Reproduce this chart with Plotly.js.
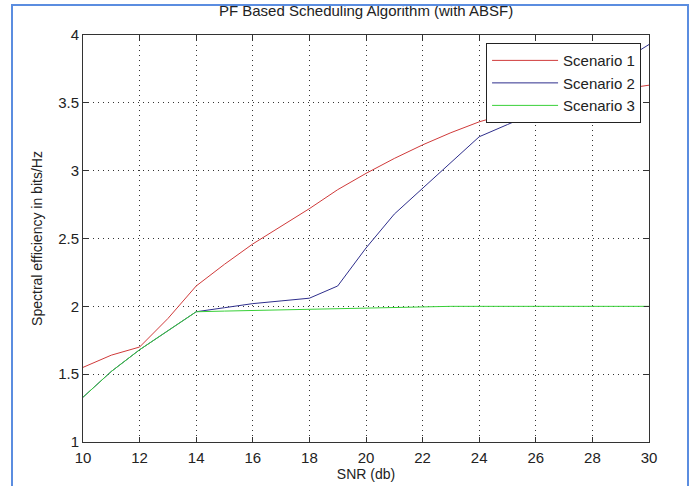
<!DOCTYPE html>
<html>
<head>
<meta charset="utf-8">
<script src="https://cdn.plot.ly/plotly-3.0.1.min.js"></script>
<style>
  html, body { margin: 0; padding: 0; background: #fff; }
  #wrap { position: relative; width: 694px; height: 486px; }
  #chart { width: 694px; height: 486px; }
  #frame { position: absolute; left: 11px; top: 4px; width: 678px; height: 490px;
           border: 2px solid #5b8de0; box-sizing: border-box; pointer-events: none; }
</style>
</head>
<body>
<div id="wrap">
  <div id="chart"></div>
  <div id="frame"></div>
</div>
<script>
const snr = [10,11,12,13,14,15,16,17,18,19,20,21,22,23,24,25,26,27,28,29,30];
const scenario1 = [1.55,1.64,1.70,1.91,2.15,2.31,2.46,2.59,2.72,2.86,2.98,3.09,3.19,3.28,3.36,3.42,3.47,3.52,3.56,3.60,3.63];
const scenario2 = [1.33,1.52,1.68,1.82,1.96,1.99,2.02,2.04,2.06,2.15,2.43,2.68,2.87,3.06,3.25,3.34,3.43,3.55,3.67,3.80,3.93];
const scenario3 = [1.33,1.52,1.68,1.82,1.96,1.965,1.97,1.975,1.98,1.98,1.99,1.995,2.0,2.0,2.0,2.0,2.0,2.0,2.0,2.0,2.0];
const names = ["Scenario 1","Scenario 2","Scenario 3"];
const colors = ["#d03a3a","#2e2e8c","#38d038"];
const xTicks = [10,12,14,16,18,20,22,24,26,28,30];
const yTicks = [1,1.5,2,2.5,3,3.5,4];

const traces = [scenario1, scenario2, scenario3].map((ys, i) => ({
  x: snr, y: ys, type: "scatter", mode: "lines", name: names[i],
  line: { color: colors[i], width: 1 }
}));

const FONT = "Liberation Sans, Arial, sans-serif";
const axisCommon = {
  showline: true, linecolor: "#333", linewidth: 1, mirror: "ticks",
  ticks: "inside", ticklen: 5, tickcolor: "#333", tickwidth: 1,
  showgrid: true, gridcolor: "#333", griddash: "1px,4px", gridwidth: 1,
  zeroline: false, tickfont: { family: FONT, size: 15, color: "#222" }
};

const layout = {
  width: 694, height: 486,
  margin: { l: 83, r: 45, t: 35, b: 44 },
  paper_bgcolor: "#fff", plot_bgcolor: "#fff",
  font: { family: FONT, color: "#222" },
  title: { text: "PF Based Scheduling Algorithm (with ABSF)", font: { size: 15, color: "#222" },
           x: 0.5275, xanchor: "center", y: 1 - 11/486, yanchor: "middle", yref: "container" },
  xaxis: Object.assign({}, axisCommon, {
    range: [10, 30], tickvals: xTicks, ticktext: xTicks.map(String), ticklabelstandoff: 2,
    title: { text: "SNR (db)", font: { size: 14, color: "#222" }, standoff: 3 }
  }),
  yaxis: Object.assign({}, axisCommon, {
    range: [1, 4], tickvals: yTicks, ticktext: yTicks.map(String),
    title: { text: "Spectral efficiency in bits/Hz", font: { size: 14, color: "#222" }, standoff: 12 }
  }),
  legend: {
    x: 0.986, xanchor: "right", y: 0.98, yanchor: "top",
    bgcolor: "#fff", bordercolor: "#222", borderwidth: 1,
    font: { size: 15, color: "#222" }, tracegroupgap: 0, itemwidth: 66
  },
  showlegend: true
};

Plotly.newPlot("chart", traces, layout, { displayModeBar: false, staticPlot: true });
</script>
</body>
</html>
